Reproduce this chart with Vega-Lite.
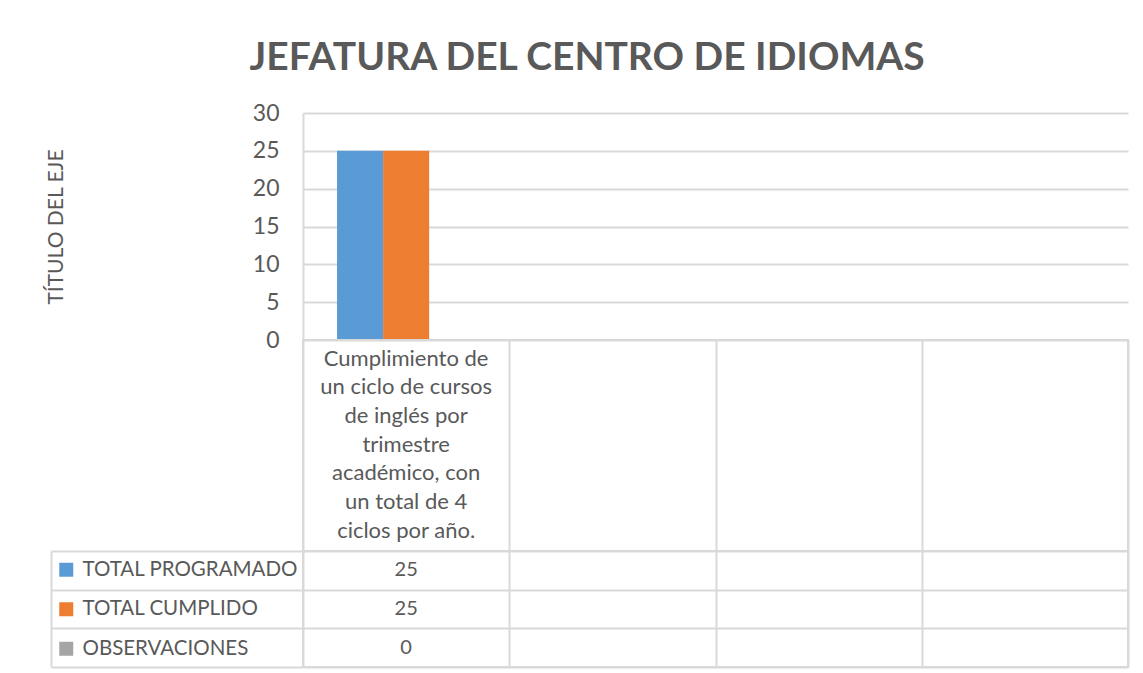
{
  "$schema": "https://vega.github.io/schema/vega-lite/v6.json",
  "background": "white",
  "padding": {"left": 45, "top": 39, "right": 10, "bottom": 5},
  "title": {"text": "JEFATURA DEL CENTRO DE IDIOMAS", "font": "Lato", "fontSize": 39, "fontWeight": "bold", "color": "#595959", "anchor": "middle", "offset": 24},
  "bounds": "flush",
  "spacing": 0,
  "config": {"view": {"stroke": null}, "font": "Lato"},
  "vconcat": [
    {
      "width": 825,
      "height": 227,
      "data": {"values": [
        {"cat": "c1", "serie": "TOTAL PROGRAMADO", "valor": 25},
        {"cat": "c1", "serie": "TOTAL CUMPLIDO", "valor": 25},
        {"cat": "c1", "serie": "OBSERVACIONES", "valor": 0}
      ]},
      "mark": {"type": "bar"},
      "encoding": {
        "x": {"field": "cat", "type": "nominal", "scale": {"domain": ["c1", "c2", "c3", "c4"], "paddingInner": 0, "paddingOuter": 0}, "axis": null},
        "xOffset": {"field": "serie", "type": "nominal", "scale": {"domain": ["TOTAL PROGRAMADO", "TOTAL CUMPLIDO", "OBSERVACIONES"], "paddingInner": 0, "paddingOuter": 0.739}},
        "y": {"field": "valor", "type": "quantitative", "scale": {"domain": [0, 30], "nice": false},
          "axis": {"values": [0, 5, 10, 15, 20, 25, 30], "title": "TÍTULO DEL EJE", "domain": true, "domainColor": "#d9d9d9", "domainWidth": 2, "ticks": false, "grid": true, "gridColor": "#d9d9d9", "gridWidth": 2, "labelFontSize": 23, "labelColor": "#595959", "labelPadding": 24, "titleFontSize": 21, "titleFontWeight": "normal", "titleColor": "#595959", "titlePadding": 186}},
        "color": {"field": "serie", "type": "nominal",
          "scale": {"domain": ["TOTAL PROGRAMADO", "TOTAL CUMPLIDO", "OBSERVACIONES"], "range": ["#5b9bd5", "#ed7d31", "#a5a5a5"]},
          "legend": {"orient": "none", "legendX": -247, "legendY": 446.5, "title": null, "symbolType": "square", "symbolSize": 196, "symbolStrokeWidth": 0, "labelFontSize": 20.5, "labelColor": "#595959", "labelOffset": 6, "rowPadding": 18.5, "padding": 0, "labelLimit": 400}}
      }
    },
    {
      "width": 825,
      "height": 211,
      "data": {"values": [
        {"cat": "c1", "etiqueta": "Cumplimiento de\nun ciclo de cursos\nde inglés por\ntrimestre\nacadémico, con\nun total de 4\nciclos por año."},
        {"cat": "c2", "etiqueta": ""},
        {"cat": "c3", "etiqueta": ""},
        {"cat": "c4", "etiqueta": ""}
      ]},
      "mark": {"type": "text", "lineBreak": "\n", "lineHeight": 28.7, "fontSize": 22, "color": "#595959", "align": "center", "baseline": "middle", "dy": -87},
      "encoding": {
        "x": {"field": "cat", "type": "nominal", "scale": {"domain": ["c1", "c2", "c3", "c4"], "paddingInner": 0, "paddingOuter": 0},
          "axis": {"title": null, "labels": false, "ticks": false, "domain": false, "grid": true, "gridColor": "#d9d9d9", "gridWidth": 2, "tickBand": "extent", "orient": "top"}},
        "text": {"field": "etiqueta"}
      },
      "view": {"stroke": "#d9d9d9", "strokeWidth": 2}
    },
    {
      "width": 825,
      "height": 116,
      "data": {"values": [
        {"cat": "c1", "fila": "TOTAL PROGRAMADO", "valor": "25"},
        {"cat": "c1", "fila": "TOTAL CUMPLIDO", "valor": "25"},
        {"cat": "c1", "fila": "OBSERVACIONES", "valor": "0"}
      ]},
      "mark": {"type": "text", "fontSize": 20, "color": "#595959"},
      "encoding": {
        "x": {"field": "cat", "type": "nominal", "scale": {"domain": ["c1", "c2", "c3", "c4"], "paddingInner": 0, "paddingOuter": 0},
          "axis": {"title": null, "labels": false, "ticks": false, "domain": false, "grid": true, "gridColor": "#d9d9d9", "gridWidth": 2, "tickBand": "extent"}},
        "y": {"field": "fila", "type": "nominal", "scale": {"domain": ["TOTAL PROGRAMADO", "TOTAL CUMPLIDO", "OBSERVACIONES"], "paddingInner": 0, "paddingOuter": 0},
          "axis": {"title": null, "labels": false, "grid": true, "gridColor": "#d9d9d9", "gridWidth": 2, "tickBand": "extent", "ticks": true, "tickSize": -252, "tickColor": "#d9d9d9", "tickWidth": 2, "domain": true, "domainColor": "#d9d9d9", "domainWidth": 2, "offset": 252}},
        "text": {"field": "valor"}
      },
      "view": {"stroke": "#d9d9d9", "strokeWidth": 2}
    }
  ]
}
